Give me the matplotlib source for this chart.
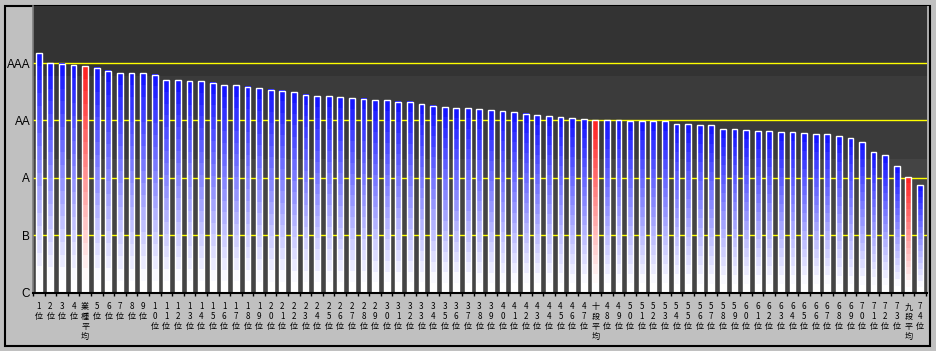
import numpy as np
import matplotlib
matplotlib.use("Agg")
import matplotlib.pyplot as plt
from matplotlib.patches import Rectangle

# ---- data ----
labels = (["1位", "2位", "3位", "4位", "業種平均"]
          + [f"{i}位" for i in range(5, 48)]
          + ["十段平均"]
          + [f"{i}位" for i in range(48, 74)]
          + ["九段平均", "74位"])

values = [
    4.18, 4.00, 3.99, 3.97, 3.95,            # 1-4, 業種平均
    3.92, 3.87, 3.83, 3.83, 3.83,            # 5-9
    3.80, 3.71, 3.71, 3.69, 3.68,            # 10-14
    3.66, 3.62, 3.62, 3.59, 3.56,            # 15-19
    3.54, 3.52, 3.50, 3.45, 3.42,            # 20-24
    3.42, 3.41, 3.39, 3.38, 3.36,            # 25-29
    3.36, 3.33, 3.33, 3.28, 3.26,            # 30-34
    3.24, 3.22, 3.21, 3.20, 3.18,            # 35-39
    3.17, 3.14, 3.12, 3.10, 3.08,            # 40-44
    3.06, 3.04, 3.03,                        # 45-47
    3.01,                                    # 十段平均
    3.01, 3.01, 2.99, 2.99, 2.99,            # 48-52
    2.99, 2.94, 2.94, 2.92, 2.92,            # 53-57
    2.85, 2.85, 2.83, 2.82, 2.82,            # 58-62
    2.80, 2.80, 2.78, 2.76, 2.76,            # 63-67
    2.73, 2.69, 2.62, 2.45, 2.40,            # 68-72
    2.21,                                    # 73
    2.01,                                    # 九段平均
    1.87,                                    # 74
]
highlight = ["業種平均", "十段平均", "九段平均"]
rating_ticks = [0, 1, 2, 3, 4]
rating_labels = ["C", "B", "A", "AA", "AAA"]

# ---- figure ----
W, H = 937, 351
fig = plt.figure(figsize=(W / 100, H / 100), dpi=100)
fig.patch.set_facecolor("#c0c0c0")

# outer frame
fig.add_artist(Rectangle((5 / W, 5 / H), 925 / W, 340 / H, transform=fig.transFigure,
                         fill=False, edgecolor="black", lw=1.5, zorder=0))
# light strip at right of plot
fig.add_artist(Rectangle((926.5 / W, (351 - 292.7) / H), 3 / W, 287 / H,
                         transform=fig.transFigure, facecolor="#a8a8a8",
                         edgecolor="none", zorder=0))

ax = fig.add_axes([33 / W, (351 - 292.7) / H, 893.7 / W, 287 / H])
ax.set_facecolor("#333333")

n = len(values)
x = np.arange(n)

# background bands
ax.axhspan(3.78, 5, color="#333333", zorder=0, lw=0)
ax.axhspan(2.33, 3.78, color="#3b3b3b", zorder=0, lw=0)
ax.axhspan(0, 2.33, color="#444444", zorder=0, lw=0)

# grid lines
for g in rating_ticks[1:]:
    ax.axhline(g, color="#ffff00", lw=1.0, zorder=1)

# bars with gradient
bw = 0.5
steps = 18
t = (np.arange(steps) + 0.5) / steps
t = np.clip((t - 0.06) / 0.94, 0, 1)
t = t[::-1]  # top row first
for xi, v, lab in zip(x, values, labels):
    top = np.array([1.0, 0.12, 0.12]) if lab in highlight else np.array([0.06, 0.06, 1.0])
    cols = (1 - t)[:, None] * np.ones(3) + t[:, None] * top
    img = cols[:, None, :]
    ax.imshow(img, extent=(xi - bw / 2, xi + bw / 2, 0, v), aspect="auto",
              interpolation="nearest", zorder=2)
ax.bar(x, values, width=bw, fill=False, edgecolor="white", lw=1.0, zorder=3)
ax.set_xlim(-0.43, n - 1 + 0.58)
ax.set_ylim(0, 5)

# axes styling
for s in ["top", "right"]:
    ax.spines[s].set_visible(False)
ax.spines["left"].set_color("#808080")
ax.spines["left"].set_linewidth(1.2)
ax.spines["bottom"].set_color("black")
ax.spines["bottom"].set_linewidth(1.5)
ax.spines["bottom"].set_zorder(5)

ax.set_yticks(rating_ticks)
ax.set_yticklabels(rating_labels, fontsize=8.5, family="Liberation Sans", color="black")
ax.tick_params(axis="y", length=0, pad=2)

ax.set_xticks(x)
ax.set_xticklabels(["\n".join(list(l)) for l in labels],
                   family=["Noto Sans CJK JP", "DejaVu Sans"], fontsize=5.8,
                   linespacing=1.12, color="black")
ax.tick_params(axis="x", length=0, pad=7)
ax.set_xticks(np.arange(n + 1) - 0.5, minor=True)
ax.tick_params(axis="x", which="minor", length=2, width=1, color="black", direction="out")

fig.savefig("out.png", dpi=100, facecolor=fig.get_facecolor())
